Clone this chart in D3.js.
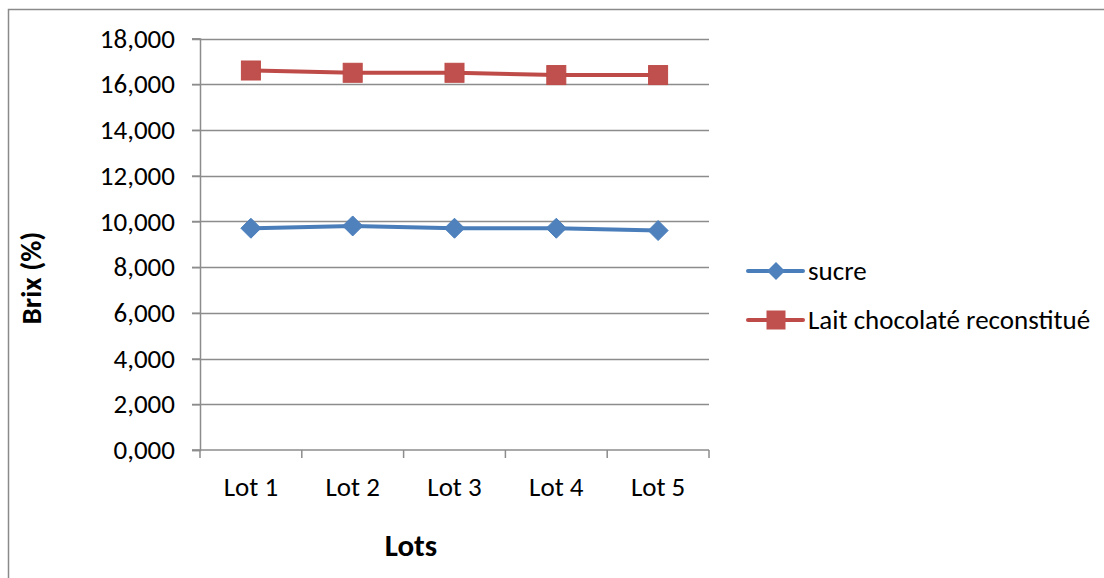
<!DOCTYPE html>
<html>
<head>
<meta charset="utf-8">
<script src="https://cdn.jsdelivr.net/npm/d3@7"></script>
<style>
  html, body { margin: 0; padding: 0; background: #fff; }
  svg { display: block; font-family: Carlito, Calibri, Lato, "Open Sans", sans-serif; }
</style>
</head>
<body>
<svg id="chart" width="1104" height="578"></svg>
<script>
// Brix measurements per lot
const lots = ["Lot 1", "Lot 2", "Lot 3", "Lot 4", "Lot 5"];
const sucre = [9.7, 9.8, 9.7, 9.7, 9.6];
const laitChocolate = [16.6, 16.5, 16.5, 16.4, 16.4];
const yTicks = [0, 2, 4, 6, 8, 10, 12, 14, 16, 18];
const seriesNames = ["sucre", "Lait chocolaté reconstitué"];
const seriesColors = ["#4A7EBB", "#BE4B48"];
const markerColors = ["#4F81BD", "#C0504D"];

const svg = d3.select("#chart");
const W = 1104, H = 578;
const FONT = "Carlito, Calibri, Lato, sans-serif";
const AXIS_GREY = "#8c8c8c";

// outer chart frame
svg.append("rect")
  .attr("x", 8.5).attr("y", 9.5)
  .attr("width", W).attr("height", H)
  .attr("fill", "none").attr("stroke", "#8a8a8a").attr("stroke-width", 1.5);

const plot = { left: 200, right: 709, top: 38.5, bottom: 450 };

const x = d3.scaleBand().domain(lots).range([plot.left, plot.right]);
const y = d3.scaleLinear().domain([0, 18]).range([plot.bottom, plot.top]);

// values in thousandths with a decimal comma, e.g. "18,000"
const label = v => d3.format(".3f")(v).replace(".", ",");

// horizontal gridlines
svg.append("g")
  .selectAll("line")
  .data(yTicks.filter(d => d > 0))
  .join("line")
  .attr("x1", plot.left - 8).attr("x2", plot.right)
  .attr("y1", d => Math.round(y(d)) + 0.5).attr("y2", d => Math.round(y(d)) + 0.5)
  .attr("stroke", AXIS_GREY).attr("stroke-width", 1.5);

// y axis
const yAxis = svg.append("g")
  .attr("transform", `translate(${plot.left},0)`)
  .call(d3.axisLeft(y).tickValues(yTicks).tickSize(8).tickPadding(17).tickFormat(label));
yAxis.select(".domain").attr("stroke", AXIS_GREY).attr("stroke-width", 1.5);
yAxis.selectAll(".tick line").attr("stroke", AXIS_GREY).attr("stroke-width", 1.5);
yAxis.selectAll(".tick text")
  .attr("font-size", 27).attr("fill", "#000")
  .attr("font-family", FONT);

// x axis
const xTickPos = lots.map(d => x(d)).concat([plot.right]);
const xAxisG = svg.append("g").attr("transform", `translate(0,${plot.bottom})`);
xAxisG.append("line")
  .attr("x1", plot.left - 8).attr("x2", plot.right)
  .attr("y1", 0).attr("y2", 0)
  .attr("stroke", AXIS_GREY).attr("stroke-width", 1.5);
xAxisG.selectAll("line.tk")
  .data(xTickPos)
  .join("line").attr("class", "tk")
  .attr("x1", d => d).attr("x2", d => d)
  .attr("y1", 0).attr("y2", 8)
  .attr("stroke", AXIS_GREY).attr("stroke-width", 1.5);
xAxisG.selectAll("text")
  .data(lots)
  .join("text")
  .attr("x", d => x(d) + x.bandwidth() / 2)
  .attr("y", 46)
  .attr("text-anchor", "middle")
  .attr("font-size", 27)
  .text(d => d);

// axis titles
svg.append("text")
  .attr("x", 411).attr("y", 556)
  .attr("text-anchor", "middle")
  .attr("font-size", 31).attr("font-weight", "bold")
  .text("Lots");
svg.append("text")
  .attr("transform", `translate(41,278) rotate(-90)`)
  .attr("text-anchor", "middle")
  .attr("font-size", 29).attr("font-weight", "bold")
  .text("Brix (%)");

const cx = d => x(d) + x.bandwidth() / 2;
const line = d3.line().x((v, i) => cx(lots[i])).y(v => y(v));

// series: sucre (diamonds)
const g1 = svg.append("g");
g1.append("path").datum(sucre)
  .attr("d", line).attr("fill", "none")
  .attr("stroke", seriesColors[0]).attr("stroke-width", 4).attr("stroke-linejoin", "round");
g1.selectAll("path.m")
  .data(sucre)
  .join("path").attr("class", "m")
  .attr("d", (v, i) => { const px = cx(lots[i]), py = y(v), s = 10;
    return `M${px},${py - s}L${px + s},${py}L${px},${py + s}L${px - s},${py}Z`; })
  .attr("fill", markerColors[0]).attr("stroke", seriesColors[0]).attr("stroke-width", 1);

// series: lait chocolaté (squares)
const g2 = svg.append("g");
g2.append("path").datum(laitChocolate)
  .attr("d", line).attr("fill", "none")
  .attr("stroke", seriesColors[1]).attr("stroke-width", 4).attr("stroke-linejoin", "round");
g2.selectAll("rect")
  .data(laitChocolate)
  .join("rect")
  .attr("x", (v, i) => cx(lots[i]) - 9.5)
  .attr("y", v => y(v) - 9.5)
  .attr("width", 19).attr("height", 19)
  .attr("fill", markerColors[1]).attr("stroke", seriesColors[1]).attr("stroke-width", 1);

// legend
const legend = svg.append("g");
const legY = [271, 320];
seriesNames.forEach((name, i) => {
  const gy = legY[i];
  legend.append("line")
    .attr("x1", 748).attr("x2", 803).attr("y1", gy).attr("y2", gy)
    .attr("stroke", seriesColors[i]).attr("stroke-width", 4).attr("stroke-linecap", "round");
  if (i === 0) {
    const s = 9;
    legend.append("path")
      .attr("d", `M776,${gy - s}L${776 + s},${gy}L776,${gy + s}L${776 - s},${gy}Z`)
      .attr("fill", markerColors[0]);
  } else {
    legend.append("rect")
      .attr("x", 766.5).attr("y", gy - 9.5).attr("width", 19).attr("height", 19)
      .attr("fill", markerColors[1]);
  }
  legend.append("text")
    .attr("x", 808).attr("y", gy + 9)
    .attr("font-size", 27)
    .text(name);
});
</script>
</body>
</html>
